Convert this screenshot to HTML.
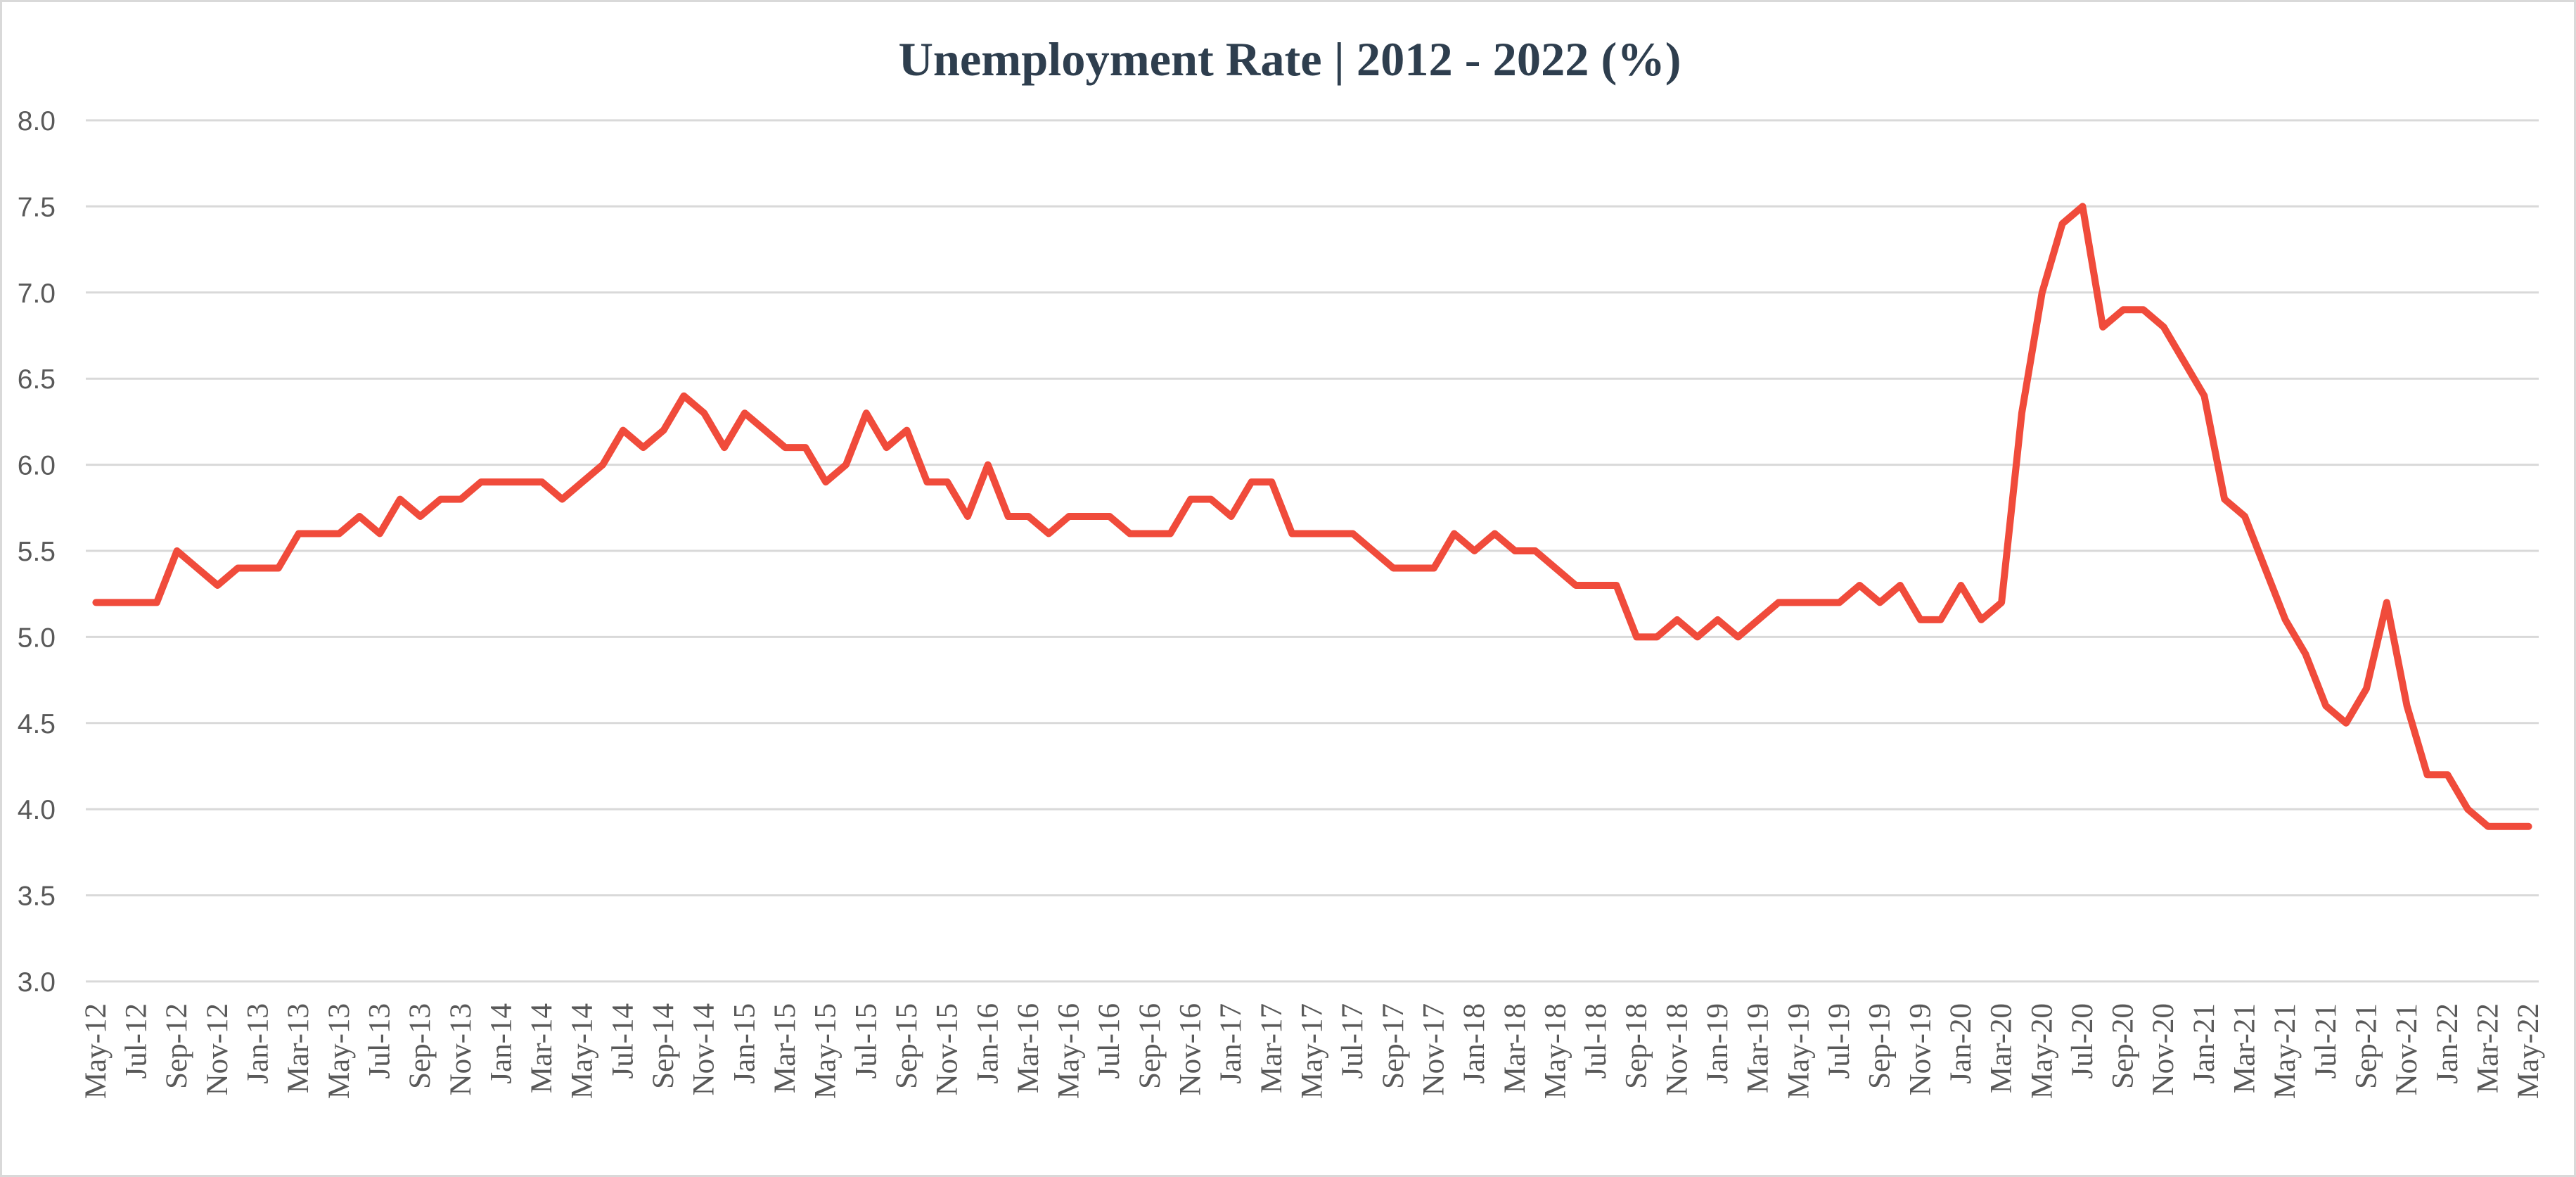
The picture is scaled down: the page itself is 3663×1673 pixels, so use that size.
<!DOCTYPE html>
<html><head><meta charset="utf-8"><style>
html,body{margin:0;padding:0;background:#fff;}
svg{display:block;}
</style></head><body>
<svg id="chart" width="3663" height="1673" viewBox="0 0 3663 1673" xmlns="http://www.w3.org/2000/svg">
<rect x="1.5" y="1.5" width="3660" height="1670" fill="#fff" stroke="#d9d9d9" stroke-width="3"/>
<text x="1834" y="107" text-anchor="middle" font-family="Liberation Serif, serif" font-weight="bold" font-size="68" fill="#2e3e4e" textLength="1113" lengthAdjust="spacingAndGlyphs">Unemployment Rate | 2012 - 2022 (%)</text>
<g id="grid"></g>
<g id="yticks"></g>
<g id="xticks"></g>
<g id="series"></g>
</svg>
<script>
const months = ["Jan","Feb","Mar","Apr","May","Jun","Jul","Aug","Sep","Oct","Nov","Dec"];
const yTicks = [3.0,3.5,4.0,4.5,5.0,5.5,6.0,6.5,7.0,7.5,8.0];
const rates = [
5.2,5.2,5.2,5.2,5.5,5.4,5.3,5.4,
5.4,5.4,5.6,5.6,5.6,5.7,5.6,5.8,5.7,5.8,5.8,5.9,
5.9,5.9,5.9,5.8,5.9,6.0,6.2,6.1,6.2,6.4,6.3,6.1,
6.3,6.2,6.1,6.1,5.9,6.0,6.3,6.1,6.2,5.9,5.9,5.7,
6.0,5.7,5.7,5.6,5.7,5.7,5.7,5.6,5.6,5.6,5.8,5.8,
5.7,5.9,5.9,5.6,5.6,5.6,5.6,5.5,5.4,5.4,5.4,5.6,
5.5,5.6,5.5,5.5,5.4,5.3,5.3,5.3,5.0,5.0,5.1,5.0,
5.1,5.0,5.1,5.2,5.2,5.2,5.2,5.3,5.2,5.3,5.1,5.1,
5.3,5.1,5.2,6.3,7.0,7.4,7.5,6.8,6.9,6.9,6.8,6.6,
6.4,5.8,5.7,5.4,5.1,4.9,4.6,4.5,4.7,5.2,4.6,4.2,
4.2,4.0,3.9,3.9,3.9];
const categories = rates.map((_, i) => {
  const m = (4 + i) % 12, y = 12 + Math.floor((4 + i) / 12);
  return months[m] + "-" + y;
});

const NS = "http://www.w3.org/2000/svg";
const L = 122, R = 3610, T = 171, B = 1395, yMin = 3, yMax = 8;
const step = (R - L) / categories.length;
const xScale = i => L + step * (i + 0.5);
const yScale = v => B - (v - yMin) / (yMax - yMin) * (B - T);

const grid = document.getElementById("grid"), yt = document.getElementById("yticks");
yTicks.forEach(v => {
  const ln = document.createElementNS(NS, "line");
  ln.setAttribute("x1", L); ln.setAttribute("x2", R);
  ln.setAttribute("y1", yScale(v)); ln.setAttribute("y2", yScale(v));
  ln.setAttribute("stroke", "#d9d9d9"); ln.setAttribute("stroke-width", "3");
  
  
  grid.appendChild(ln);
  const t = document.createElementNS(NS, "text");
  t.setAttribute("x", 79); t.setAttribute("y", yScale(v) + 14);
  t.setAttribute("text-anchor", "end");
  t.setAttribute("font-family", "Liberation Sans, sans-serif");
  t.setAttribute("font-size", "39"); t.setAttribute("fill", "#595959");
  t.textContent = v.toFixed(1);
  
  
  yt.appendChild(t);
});

const xt = document.getElementById("xticks");
categories.forEach((c, i) => {
  if (i % 2 !== 0) return;
  const x = xScale(i), y = 1426;
  const t = document.createElementNS(NS, "text");
  t.setAttribute("x", x); t.setAttribute("y", y);
  t.setAttribute("transform", `rotate(-90 ${x} ${y})`);
  t.setAttribute("text-anchor", "end");
  t.setAttribute("dominant-baseline", "central");
  t.setAttribute("font-family", "Liberation Serif, serif");
  t.setAttribute("font-size", "43"); t.setAttribute("fill", "#595959");
  t.textContent = c;
  
  
  xt.appendChild(t);
});

const path = document.createElementNS(NS, "polyline");
path.setAttribute("points", rates.map((v, i) => xScale(i).toFixed(1) + "," + yScale(v).toFixed(1)).join(" "));
path.setAttribute("fill", "none"); path.setAttribute("stroke", "#f04b3b");
path.setAttribute("stroke-width", "10"); path.setAttribute("stroke-linejoin", "round");
path.setAttribute("stroke-linecap", "round");


document.getElementById("series").appendChild(path);
</script>
</body></html>
